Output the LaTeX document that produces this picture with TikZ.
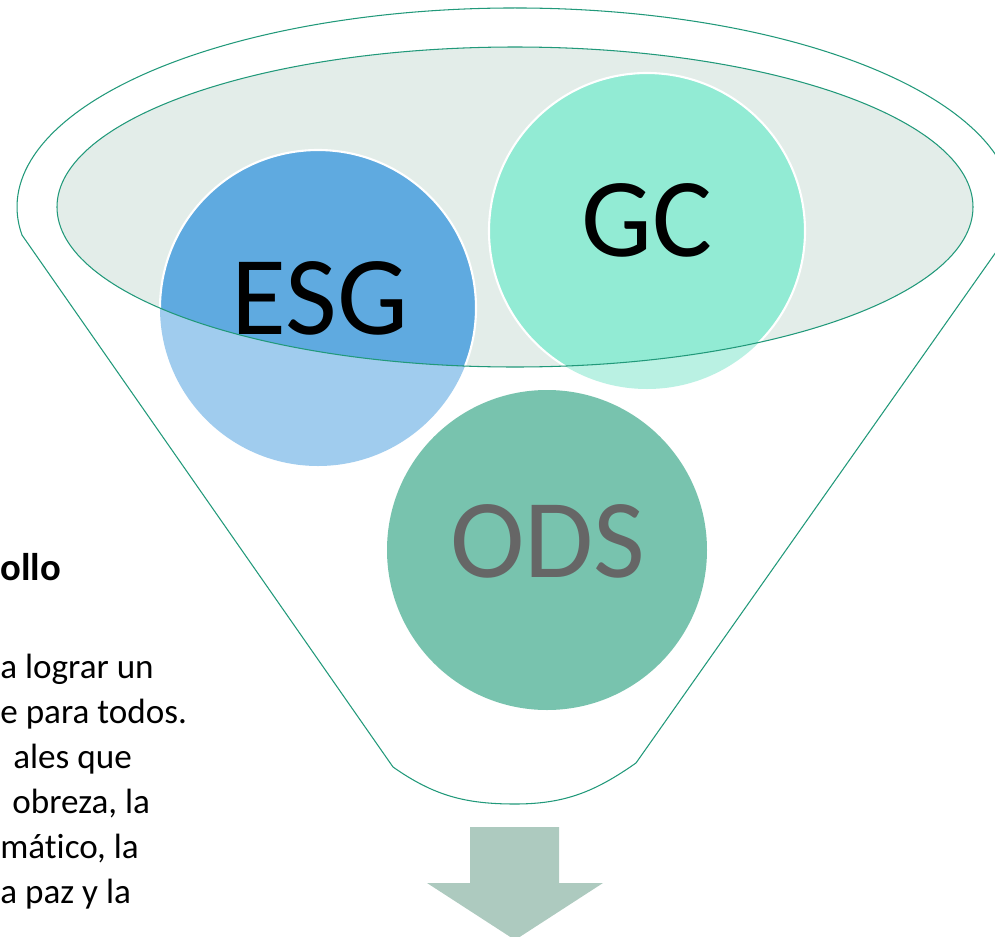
\documentclass[tikz,border=0pt]{standalone}
\usepackage{fontspec}
\setmainfont{Carlito}[Ligatures=NoCommon]
\usepackage{tikz}
\definecolor{funnelgreen}{RGB}{33,153,122}
\definecolor{rimgray}{RGB}{227,237,233}
\definecolor{esgdark}{RGB}{95,170,224}
\definecolor{esglight}{RGB}{160,204,238}
\definecolor{gcdark}{RGB}{146,235,212}
\definecolor{gclight}{RGB}{186,241,227}
\definecolor{odsfill}{RGB}{120,195,174}
\definecolor{arrowgreen}{RGB}{173,202,191}
\tikzset{
	funnelline/.style={draw=funnelgreen, line width=0.6pt},
	bigtxt/.style={font=\fontsize{64}{64}\selectfont, inner sep=0pt},
	bodytxt/.style={font=\fontsize{20}{24}\selectfont, anchor=base west, inner sep=0pt}
}

\begin{document}
\begin{tikzpicture}[x=0.02cm, y=0.02cm]
	\useasboundingbox (0, 0) rectangle (995, -937);
	
	% funnel body
	\draw[funnelline, fill=white] (1008, -235)
		arc[start angle=-8.1, end angle=188.1, x radius=498, y radius=199]
		-- (393, -767) to[out=-35, in=180] (515, -804)
		to[out=0, in=-145] (636, -763) -- cycle;
	\fill[rimgray] (515, -207) ellipse[x radius=458, y radius=160];
	
	% circles, light outside the rim
	\fill[esglight] (318, -308) circle[radius=158];
	\fill[gclight] (647, -231) circle[radius=158];
	\begin{scope}
		\clip (515, -207) ellipse[x radius=458, y radius=160];
		\draw[white, line width=1.2pt, fill=esgdark] (318, -308) circle[radius=158];
		\draw[white, line width=1.2pt, fill=gcdark] (647, -231) circle[radius=158];
	\end{scope}
	\draw[funnelline] (515, -207) ellipse[x radius=458, y radius=160];
	
	\fill[odsfill] (547, -550) circle[radius=160];
	
	\node[bigtxt] (esg) at (320, -298) {ESG};
	\node[bigtxt] (gc) at (647, -220) {GC};
	\node[bigtxt, text=black!60] (ods) at (548, -541) {ODS};
	
	% arrow below
	\fill[arrowgreen] (470, -827) -- (559, -827) -- (559, -883) -- (603, -883)
		-- (515, -940) -- (427, -883) -- (470, -883) -- cycle;
	
	% text cut at the left edge
	\node[font=\fontsize{22}{26}\selectfont\bfseries, anchor=base west, inner sep=0pt] (title) at (0, -580) {ollo};
	\node[bodytxt] (l1) at (0, -678) {a lograr un};
	\node[bodytxt] (l2) at (0, -723) {e para todos.};
	\node[bodytxt] (l3) at (13, -768) {ales que};
	\node[bodytxt] (l4) at (12, -813) {obreza, la};
	\node[bodytxt] (l5) at (0, -858) {mático, la};
	\node[bodytxt] (l6) at (0, -903) {a paz y la};
\end{tikzpicture}
\end{document}
